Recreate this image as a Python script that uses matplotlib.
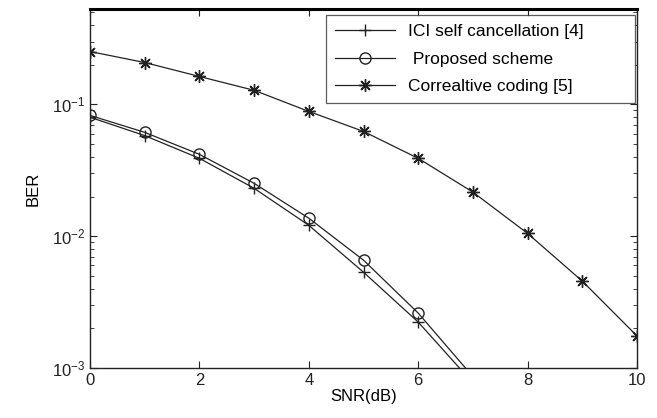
import matplotlib
matplotlib.use("Agg")
import matplotlib.pyplot as plt
import numpy as np

plt.rcParams['font.family'] = ['Liberation Sans', 'DejaVu Sans']

snr = [0, 1, 2, 3, 4, 5, 6, 7, 8, 9, 10]
snr_low = [0, 1, 2, 3, 4, 5, 6, 7]

ber_ici = [0.080, 0.058, 0.039, 0.0231, 0.0121, 0.00533, 0.00223, 0.00077]
ber_proposed = [0.0826, 0.0614, 0.0418, 0.0252, 0.0137, 0.00658, 0.00261, 0.00086]
ber_corr = [0.252, 0.208, 0.163, 0.128, 0.0885, 0.0624, 0.039, 0.0216, 0.0105, 0.00456, 0.00175]

labels = ["ICI self cancellation [4]", " Proposed scheme", "Correaltive coding [5]"]

fig = plt.figure(figsize=(6.57, 4.18), dpi=100)
ax = fig.add_axes([0.137, 0.1196, 0.8326, 0.8589])

lc = '#222222'
ax.semilogy(snr_low, ber_ici, color=lc, lw=0.9, marker='+', ms=9, mew=1.0,
            label=labels[0])
ax.semilogy(snr_low, ber_proposed, color=lc, lw=0.9, marker='o', ms=8,
            mfc='none', mew=1.0, label=labels[1])
ax.semilogy(snr, ber_corr, color=lc, lw=0.9, marker=(8, 2, 0), ms=9, mew=1.0,
            label=labels[2])

ax.set_xlim(0, 10)
ax.set_ylim(1e-3, 0.53)
ax.set_xticks([0, 2, 4, 6, 8, 10])
ax.tick_params(which='both', direction='in', top=True, right=True,
               labelsize=12, colors='#222222')
ax.tick_params(which='major', length=5)
ax.tick_params(which='minor', length=3)
for s in ax.spines.values():
    s.set_linewidth(1.0)
    s.set_color('#222222')
ax.spines['top'].set_linewidth(2.2)
ax.spines['top'].set_color('black')

ax.set_xlabel("SNR(dB)", fontsize=12, labelpad=1)
ax.set_ylabel("BER", fontsize=12, labelpad=8)

leg = ax.legend(loc='upper left', bbox_to_anchor=(0.4314, 0.5, 0.565, 0.483),
                mode='expand', borderaxespad=0,
                fontsize=12.5, frameon=True, fancybox=False, edgecolor='#333333',
                handlelength=3.5, handletextpad=0.75, labelspacing=0.72,
                borderpad=0.5)
leg.get_frame().set_linewidth(0.9)

fig.savefig("out.png", dpi=100)
